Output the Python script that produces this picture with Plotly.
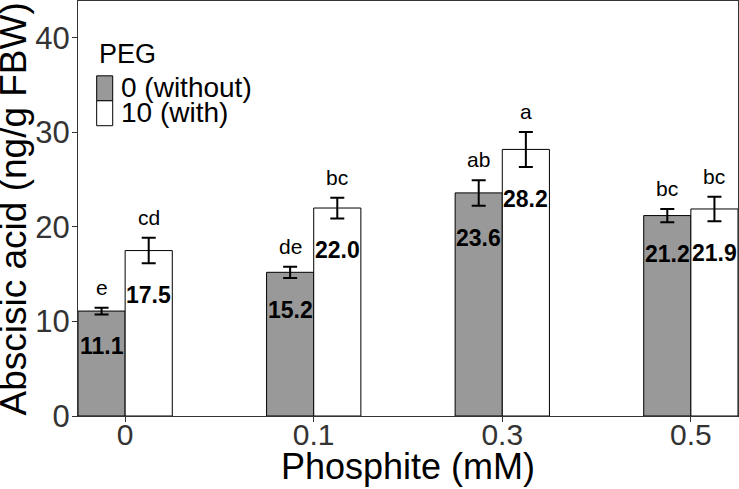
import plotly.graph_objects as go

categories = ["0", "0.1", "0.3", "0.5"]
peg0_values = [11.1, 15.2, 23.6, 21.2]
peg10_values = [17.5, 22.0, 28.2, 21.9]
peg0_err = [0.35, 0.6, 1.35, 0.7]
peg10_err = [1.35, 1.1, 1.85, 1.3]
peg0_letters = ["e", "de", "ab", "bc"]
peg10_letters = ["cd", "bc", "a", "bc"]
legend_title = "PEG"
legend_labels = ["0 (without)", "10 (with)"]
y_ticks = [0, 10, 20, 30, 40]

FONT = "Liberation Sans, Arial, sans-serif"
GRAY = "#999999"
BW = 0.25

xs = list(range(len(categories)))

fig = go.Figure()
for vals, errs, color, off in [(peg0_values, peg0_err, GRAY, -BW), (peg10_values, peg10_err, "white", 0.0)]:
    fig.add_trace(go.Bar(
        x=xs, y=vals, width=BW, offset=off,
        marker=dict(color=color, line=dict(color="black", width=1)),
        error_y=dict(type="data", array=errs, visible=True, color="black", thickness=2, width=7),
        showlegend=False,
    ))

ann = []
for i in xs:
    for vals, errs, letters, dx in [(peg0_values, peg0_err, peg0_letters, -BW / 2), (peg10_values, peg10_err, peg10_letters, BW / 2)]:
        v, e = vals[i], errs[i]
        ann.append(dict(x=i + dx, y=v + e, xref="x", yref="y", text=letters[i], showarrow=False,
                        yanchor="bottom", yshift=7, font=dict(family=FONT, size=21, color="black")))
        ann.append(dict(x=i + dx, y=v - e, xref="x", yref="y", text=f"<b>{v:.1f}</b>", showarrow=False,
                        yanchor="middle", yshift=-32, font=dict(family=FONT, size=23, color="black")))

# axis titles
ann.append(dict(x=0.5, y=-0.122, xref="paper", yref="paper", text="Phosphite (mM)", showarrow=False,
                xanchor="center", yanchor="middle", font=dict(family=FONT, size=36, color="black")))
ann.append(dict(x=-0.097, y=0.5, xref="paper", yref="paper", text="Abscisic acid (ng/g FBW)", showarrow=False,
                textangle=-90, xanchor="center", yanchor="middle", font=dict(family=FONT, size=37, color="black")))

# legend (custom)
ann.append(dict(x=0.029, y=0.872, xref="paper", yref="paper", text=legend_title, showarrow=False,
                xanchor="left", yanchor="middle", font=dict(family=FONT, size=27, color="black")))
ann.append(dict(x=0.062, y=0.792, xref="paper", yref="paper", text=legend_labels[0], showarrow=False,
                xanchor="left", yanchor="middle", font=dict(family=FONT, size=28, color="black")))
ann.append(dict(x=0.062, y=0.732, xref="paper", yref="paper", text=legend_labels[1], showarrow=False,
                xanchor="left", yanchor="middle", font=dict(family=FONT, size=28, color="black")))
shapes = [
    dict(type="rect", xref="paper", yref="paper", x0=0.0283, x1=0.0526, y0=0.7596, y1=0.8197,
         fillcolor=GRAY, line=dict(color="black", width=1)),
    dict(type="rect", xref="paper", yref="paper", x0=0.0283, x1=0.0526, y0=0.6995, y1=0.7596,
         fillcolor="white", line=dict(color="black", width=1)),
]

fig.update_layout(
    width=739, height=489,
    margin=dict(l=78, r=1, t=1, b=73),
    plot_bgcolor="white", paper_bgcolor="white",
    barmode="overlay",
    annotations=ann, shapes=shapes,
    font=dict(family=FONT),
)
fig.update_xaxes(
    range=[-0.25, 3.25], tickvals=xs, ticktext=categories,
    showline=True, mirror=True, linecolor="#333333", linewidth=1,
    ticks="outside", ticklen=5, tickcolor="#333333",
    tickfont=dict(family=FONT, size=30, color="#333333"),
    ticklabelstandoff=-13,
    showgrid=False, zeroline=False,
)
fig.update_yaxes(
    range=[0, 43.9], tickvals=y_ticks,
    showline=True, mirror=True, linecolor="#333333", linewidth=1,
    ticks="outside", ticklen=5, tickcolor="#333333",
    tickfont=dict(family=FONT, size=31, color="#333333"),
    ticklabelstandoff=-4,
    showgrid=False, zeroline=False,
)

fig.write_html("out.html")
